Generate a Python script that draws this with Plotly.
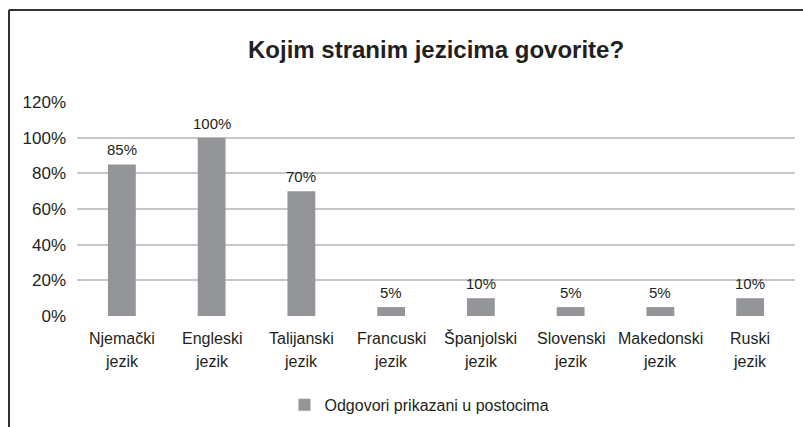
import plotly.graph_objects as go

categories = ["Njemački jezik", "Engleski jezik", "Talijanski jezik", "Francuski jezik",
              "Španjolski jezik", "Slovenski jezik", "Makedonski jezik", "Ruski jezik"]
values = [85, 100, 70, 5, 10, 5, 5, 10]
value_labels = ["85%", "100%", "70%", "5%", "10%", "5%", "5%", "10%"]
y_ticks = [0, 20, 40, 60, 80, 100, 120]
y_tick_labels = ["0%", "20%", "40%", "60%", "80%", "100%", "120%"]

FONT = "Liberation Sans, Arial, sans-serif"
TEXT = "#231f20"

fig = go.Figure()

fig.add_trace(go.Bar(
    x=categories, y=values,
    name="Odgovori prikazani u postocima",
    marker=dict(color="#939598", line=dict(width=0)),
))

# value labels above bars
for cat, val, lab in zip(categories, values, value_labels):
    fig.add_annotation(x=cat, y=val, text=lab, showarrow=False,
                       yanchor="bottom", yshift=4,
                       font=dict(family=FONT, size=15, color=TEXT))

# two-line category labels (Excel-like line spacing)
for cat in categories:
    first, second = cat.rsplit(" ", 1)
    fig.add_annotation(x=cat, xref="x", y=0, yref="paper", text=first, showarrow=False,
                       yanchor="middle", yshift=-22, font=dict(family=FONT, size=16, color=TEXT))
    fig.add_annotation(x=cat, xref="x", y=0, yref="paper", text=second, showarrow=False,
                       yanchor="middle", yshift=-45, font=dict(family=FONT, size=16, color=TEXT))

# frame lines (only top and left visible in the crop)
fig.add_shape(type="line", xref="paper", yref="paper",
              x0=-0.0947, y0=1.43, x1=1.05, y1=1.43,
              line=dict(color="#333333", width=2))
fig.add_shape(type="line", xref="paper", yref="paper",
              x0=-0.0947, y0=1.43, x1=-0.0947, y1=-0.6,
              line=dict(color="#333333", width=2))

fig.update_layout(
    width=803, height=427,
    margin=dict(l=77, r=8, t=102, b=111, autoexpand=False),
    paper_bgcolor="white",
    plot_bgcolor="white",
    font=dict(family=FONT, color=TEXT),
    title=dict(text="<b>Kojim stranim jezicima govorite?</b>",
               x=0.543, xanchor="center", y=0.885, yanchor="middle",
               font=dict(family=FONT, size=24, color=TEXT)),
    bargap=0.69,
    showlegend=True,
    legend=dict(orientation="h", x=0.477, xanchor="center", y=-0.415, yanchor="middle",
                font=dict(family=FONT, size=16, color=TEXT)),
    xaxis=dict(showticklabels=False, showgrid=False, showline=False, ticks="", zeroline=False),
    yaxis=dict(range=[0, 120], tickvals=y_ticks, ticktext=y_tick_labels,
               tickfont=dict(family=FONT, size=17, color=TEXT),
               showgrid=True, gridcolor="#c8c8c8", gridwidth=2,
               zeroline=False, showline=False, ticks="", ticklabelstandoff=10),
)

fig.write_html("out.html", config={"displayModeBar": False},
               post_script="document.body.style.margin='0';")
